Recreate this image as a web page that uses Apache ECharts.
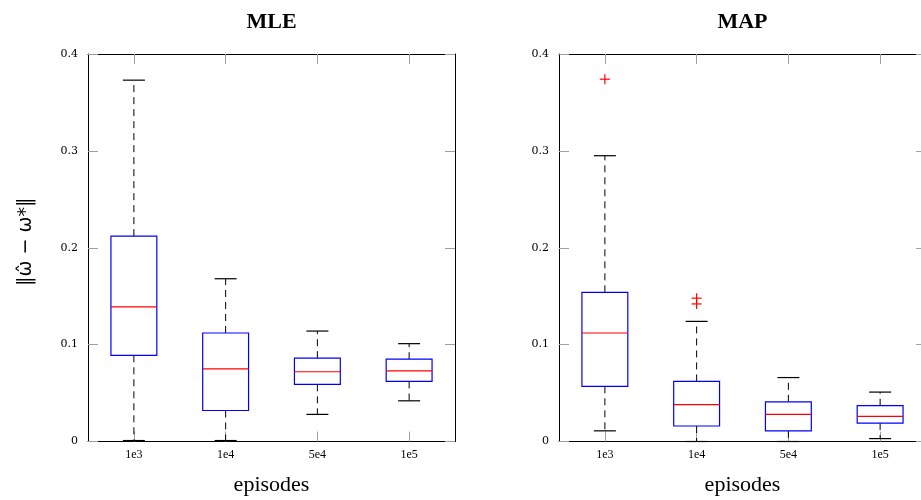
<!DOCTYPE html>
<html>
<head>
<meta charset="utf-8">
<script src="https://cdn.jsdelivr.net/npm/echarts@6/dist/echarts.min.js"></script>
<style>
  html, body { margin: 0; padding: 0; background: #fff; }
  #chart { width: 921px; height: 500px; }
</style>
</head>
<body>
<div id="chart"></div>
<script>
  // categories and tick labels
  const categories = ['1e3', '1e4', '5e4', '1e5'];
  const yTicks = [0, 0.1, 0.2, 0.3, 0.4];

  // MLE boxes (whisker low, q1, median, q3, whisker high)
  const mleLow = [0.001, 0.001, 0.028, 0.042];
  const mleQ1 = [0.089, 0.032, 0.059, 0.062];
  const mleMed = [0.139, 0.075, 0.072, 0.073];
  const mleQ3 = [0.212, 0.112, 0.086, 0.085];
  const mleHigh = [0.373, 0.168, 0.114, 0.101];

  // MAP boxes
  const mapLow = [0.011, 0, 0, 0.003];
  const mapQ1 = [0.057, 0.016, 0.011, 0.019];
  const mapMed = [0.112, 0.038, 0.028, 0.026];
  const mapQ3 = [0.154, 0.062, 0.041, 0.037];
  const mapHigh = [0.295, 0.124, 0.066, 0.051];
  // outliers: [category index, value]
  const mapOutliers = [[0, 0.374], [1, 0.148], [1, 0.142]];

  function rows(low, q1, med, q3, high) {
    return categories.map((c, i) => [i, low[i], q1[i], med[i], q3[i], high[i]]);
  }

  const serif = 'Liberation Serif';
  const tickColor = '#a0a0a0';

  function renderBox(params, api) {
    const idx = api.value(0);
    const band = api.size([1, 0])[0];
    const half = band * 0.25;
    const cap = band * 0.12;
    const pLow = api.coord([idx, api.value(1)]);
    const pQ1 = api.coord([idx, api.value(2)]);
    const pMed = api.coord([idx, api.value(3)]);
    const pQ3 = api.coord([idx, api.value(4)]);
    const pHigh = api.coord([idx, api.value(5)]);
    const x = pMed[0];
    const dash = { stroke: '#000', lineWidth: 1, lineDash: [7, 5] };
    const solid = { stroke: '#000', lineWidth: 1.2 };
    return {
      type: 'group',
      children: [
        { type: 'line', shape: { x1: x, y1: pQ3[1], x2: x, y2: pHigh[1] }, style: dash },
        { type: 'line', shape: { x1: x, y1: pQ1[1], x2: x, y2: pLow[1] }, style: dash },
        { type: 'line', shape: { x1: x - cap, y1: pHigh[1], x2: x + cap, y2: pHigh[1] }, style: solid },
        { type: 'line', shape: { x1: x - cap, y1: pLow[1], x2: x + cap, y2: pLow[1] }, style: solid },
        { type: 'rect', shape: { x: x - half, y: pQ3[1], width: half * 2, height: pQ1[1] - pQ3[1] },
          style: { fill: '#fff', stroke: '#0000ff', lineWidth: 1.2 } },
        { type: 'line', shape: { x1: x - half, y1: pMed[1], x2: x + half, y2: pMed[1] },
          style: { stroke: '#ff0000', lineWidth: 1.2 } }
      ]
    };
  }

  function renderPlus(params, api) {
    const p = api.coord([api.value(0), api.value(1)]);
    const s = 5;
    const st = { stroke: '#ff0000', lineWidth: 1.2 };
    return {
      type: 'group',
      children: [
        { type: 'line', shape: { x1: p[0] - s, y1: p[1], x2: p[0] + s, y2: p[1] }, style: st },
        { type: 'line', shape: { x1: p[0], y1: p[1] - s, x2: p[0], y2: p[1] + s }, style: st }
      ]
    };
  }

  function xAxes(gridIndex, title) {
    const tick = { show: true, inside: true, alignWithLabel: true, length: 10, lineStyle: { color: tickColor } };
    const line = { show: true, onZero: false, lineStyle: { color: '#000', width: 1 } };
    return [
      {
        type: 'category', data: categories, gridIndex: gridIndex, position: 'bottom',
        name: 'episodes', nameLocation: 'middle', nameGap: 33,
        nameTextStyle: { fontFamily: serif, fontSize: 22, color: '#000' },
        axisLine: line,
        axisTick: tick,
        axisLabel: { fontFamily: serif, fontSize: 12, color: '#000', margin: 7 },
        splitLine: { show: false }
      },
      {
        type: 'category', data: categories, gridIndex: gridIndex, position: 'top',
        name: title, nameLocation: 'middle', nameGap: 21,
        nameTextStyle: { fontFamily: serif, fontSize: 22, fontWeight: 'bold', color: '#000' },
        axisLine: line,
        axisTick: tick,
        axisLabel: { show: false },
        splitLine: { show: false }
      }
    ];
  }

  function yAxes(gridIndex, withName) {
    const base = {
      type: 'value', gridIndex: gridIndex, min: 0, max: 0.4, interval: 0.1,
      axisLine: { show: true, onZero: false, lineStyle: { color: '#000', width: 1 } },
      axisTick: { show: true, inside: true, length: 10, lineStyle: { color: tickColor } },
      splitLine: { show: false }
    };
    return [
      Object.assign({}, base, {
        position: 'left',
        name: withName ? '‖ω̂ − ω*‖' : '',
        nameLocation: 'middle', nameGap: 52,
        nameTextStyle: { fontFamily: 'DejaVu Sans', fontSize: 19, color: '#000', padding: [0, 0, 0, 12] },
        axisLabel: {
          fontFamily: 'DejaVu Serif', fontSize: 11, color: '#000', margin: 10,
          formatter: v => (v === 0 ? '0' : v.toFixed(1))
        }
      }),
      Object.assign({}, base, { position: 'right', axisLabel: { show: false } })
    ];
  }

  const chart = echarts.init(document.getElementById('chart'));
  chart.setOption({
    animation: false,
    backgroundColor: '#fff',
    grid: [
      { left: 88, top: 54, width: 367, height: 387.5, containLabel: false, outerBoundsMode: 'none' },
      { left: 559, top: 54, width: 367, height: 387.5, containLabel: false, outerBoundsMode: 'none' }
    ],
    xAxis: xAxes(0, 'MLE').concat(xAxes(1, 'MAP')),
    yAxis: yAxes(0, true).concat(yAxes(1, false)),
    series: [
      { type: 'custom', xAxisIndex: 0, yAxisIndex: 0, renderItem: renderBox,
        data: rows(mleLow, mleQ1, mleMed, mleQ3, mleHigh), z: 3 },
      { type: 'custom', xAxisIndex: 2, yAxisIndex: 2, renderItem: renderBox,
        data: rows(mapLow, mapQ1, mapMed, mapQ3, mapHigh), z: 3 },
      { type: 'custom', xAxisIndex: 2, yAxisIndex: 2, renderItem: renderPlus,
        data: mapOutliers, z: 4 }
    ]
  });
</script>
</body>
</html>
